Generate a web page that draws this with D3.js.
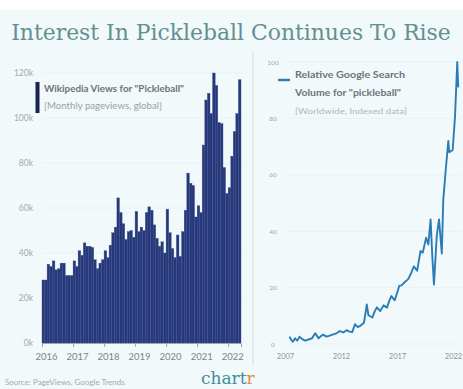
<!DOCTYPE html>
<html>
<head>
<meta charset="utf-8">
<script src="https://cdn.jsdelivr.net/npm/d3@7"></script>
<style>
  body { margin: 0; background: #ffffff; }
  svg { display: block; }
</style>
</head>
<body>
<svg id="chart" width="463" height="389"></svg>
<script>
// Wikipedia pageviews (thousands), monthly, Jan 2016 - May 2022
let wikiStart = new Date(2016, 0, 1);
let wikiViews = [
  28, 28, 35, 34, 36.5, 32.5, 33, 35.5, 35.5, 30, 30, 30,
  36.5, 34, 41, 39, 44.5, 43, 43, 42.5, 37, 33, 35.5, 37,
  41, 38, 43.5, 49, 51.5, 64.5, 58, 53, 46, 49.5, 50, 47,
  58.5, 49.5, 51.5, 50, 58, 60.5, 59, 52.5, 46.5, 43, 45, 40,
  59.5, 49, 42, 38, 48, 38.5, 49.5, 59, 75.5, 71, 70, 56,
  61, 58, 88, 108, 111, 102, 120, 114.5, 98, 97.5, 78, 66.5,
  69, 83, 94, 102, 117
];
let wikiTicks = [0, 20, 40, 60, 80, 100, 120];
let wikiYears = [2016, 2017, 2018, 2019, 2020, 2021, 2022];

// Google Trends index, read at decimal years
let gtDates = [
  2007.4, 2007.55, 2007.7, 2007.9, 2008.1, 2008.3, 2008.5, 2008.8, 2009.1, 2009.4,
  2009.7, 2010.0, 2010.2, 2010.4, 2010.7, 2011.0, 2011.3, 2011.6, 2011.9, 2012.2,
  2012.5, 2012.75, 2013.0, 2013.25, 2013.5, 2013.7, 2014.05, 2014.3, 2014.45, 2014.8,
  2015.0, 2015.2, 2015.5, 2015.8, 2016.1, 2016.3, 2016.5, 2016.8, 2017.0, 2017.2,
  2017.4, 2017.7, 2018.0, 2018.25, 2018.5, 2018.8, 2019.1, 2019.3, 2019.6, 2019.8,
  2020.0, 2020.15, 2020.3, 2020.55, 2020.75, 2021.0, 2021.13, 2021.35, 2021.58, 2021.67,
  2021.97, 2022.18, 2022.38, 2022.47
];
let gtValues = [
  2.6, 1.5, 0.8, 2.0, 1.2, 2.6, 1.8, 1.2, 1.6, 2.0,
  3.8, 2.0, 2.8, 3.3, 2.6, 3.0, 3.4, 3.8, 4.6, 4.1,
  4.9, 4.4, 4.2, 7.0, 6.0, 6.4, 7.5, 14, 10.2, 9.4,
  11.5, 13, 11.7, 13.7, 12.9, 15.2, 17, 15.5, 18, 20.6,
  20.8, 22, 23, 25, 27.5, 26, 33, 32.4, 37.7, 35.3,
  44.2, 31.2, 21.1, 38.3, 44.2, 32.1, 51, 61.7, 72, 68,
  68.8, 80.6, 100, 91
];
let gtTicks = [0, 20, 40, 60, 80, 100];
let gtYears = [2007, 2012, 2017, 2022];

let svg = d3.select("#chart");
let W = 463, H = 389;
let font = "Lato, 'Open Sans', sans-serif";

// фон
svg.append("rect").attr("width", W).attr("height", H).attr("fill", "#f1f9fb");
svg.append("rect").attr("width", W).attr("height", 10).attr("fill", "#ffffff");

// заголовок: сжимаем по ширине через transform, чтобы влез
let titleG = svg.append("g");
let title = titleG.append("text")
  .attr("x", 0).attr("y", 0)
  .attr("text-anchor", "middle")
  .attr("font-family", "'DejaVu Serif', serif")
  .attr("font-size", 23)
  .attr("fill", "#63908f")
  .text("Interest In Pickleball Continues To Rise");
let titleW = title.node().getComputedTextLength();
let sx = Math.min(1, 440 / titleW);
titleG.attr("transform", `translate(231, 40) scale(${sx}, 1)`);

// ---------- левая панель: Википедия ----------
let left = { x0: 42, x1: 241, y0: 343, y1: 73 };
let xWiki = d3.scaleTime()
  .domain([wikiStart, d3.timeMonth.offset(wikiStart, wikiViews.length)])
  .range([left.x0, left.x1]);
let yWiki = d3.scaleLinear().domain([0, 120]).range([left.y0, left.y1]);

let gL = svg.append("g");
gL.selectAll(".grid")
  .data(wikiTicks.slice(1))
  .enter().append("line")
  .attr("x1", left.x0).attr("x2", left.x1 + 4)
  .attr("y1", d => yWiki(d)).attr("y2", d => yWiki(d))
  .attr("stroke", "#e2ecef").attr("stroke-width", 0.6);

gL.selectAll(".ylab")
  .data(wikiTicks)
  .enter().append("text")
  .attr("x", 33).attr("y", d => yWiki(d) + 3)
  .attr("text-anchor", "end")
  .attr("font-family", font).attr("font-size", 8.5)
  .attr("fill", "#a3a9ad")
  .text(d => d + "k");

gL.selectAll(".bar")
  .data(wikiViews)
  .enter().append("rect")
  .attr("x", (d, i) => xWiki(d3.timeMonth.offset(wikiStart, i)))
  .attr("width", (d, i) => xWiki(d3.timeMonth.offset(wikiStart, i + 1)) - xWiki(d3.timeMonth.offset(wikiStart, i)))
  .attr("y", d => yWiki(d))
  .attr("height", d => left.y0 - yWiki(d))
  .attr("fill", "#26387a")
  .attr("stroke", "#3a4d8c")
  .attr("stroke-width", 0.35);

let axisWiki = d3.axisBottom(xWiki)
  .tickValues(wikiYears.map(y => new Date(y, 0, 1)))
  .tickFormat(d3.timeFormat("%Y"))
  .tickSize(4).tickPadding(6);
let ax = gL.append("g")
  .attr("transform", `translate(0, ${left.y0})`)
  .call(axisWiki);
ax.select(".domain").attr("stroke", "#9aa4b8");
ax.selectAll(".tick line").attr("stroke", "#9aa4b8");
ax.selectAll("text")
  .attr("font-family", font).attr("font-size", 9.5)
  .attr("fill", "#7d8488")
  .attr("dx", 4);

// легенда слева
gL.append("rect").attr("x", 35.5).attr("y", 82).attr("width", 4).attr("height", 31).attr("fill", "#1a2454");
gL.append("text").attr("x", 44).attr("y", 92)
  .attr("font-family", font).attr("font-size", 8.8).attr("font-weight", 700)
  .attr("fill", "#6e7378")
  .attr("textLength", 140).attr("lengthAdjust", "spacingAndGlyphs")
  .text("Wikipedia Views for \"Pickleball\"");
gL.append("text").attr("x", 44).attr("y", 109)
  .attr("font-family", font).attr("font-size", 8.8)
  .attr("fill", "#9aa0a4")
  .attr("textLength", 118).attr("lengthAdjust", "spacingAndGlyphs")
  .text("[Monthly pageviews, global]");

// разделитель
svg.append("line")
  .attr("x1", 253).attr("x2", 253).attr("y1", 52).attr("y2", 365)
  .attr("stroke", "#d4dadd").attr("stroke-width", 1);

// ---------- правая панель: Google Trends ----------
let right = { x0: 285, x1: 453, y0: 344, y1: 62 };
let xGt = d3.scaleLinear().domain([2007, 2022]).range([right.x0, right.x1]);
let yGt = d3.scaleLinear().domain([0, 100]).range([right.y0, right.y1]);

let gR = svg.append("g");
gR.selectAll(".grid")
  .data(gtTicks)
  .enter().append("line")
  .attr("x1", 288).attr("x2", 462)
  .attr("y1", d => yGt(d)).attr("y2", d => yGt(d))
  .attr("stroke", "#e2ecef").attr("stroke-width", 0.6);

gR.selectAll(".ylab")
  .data(gtTicks)
  .enter().append("text")
  .attr("x", 273).attr("y", d => yGt(d) + 2.5)
  .attr("text-anchor", "middle")
  .attr("font-family", font).attr("font-size", 6.5)
  .attr("fill", "#a3a9ad")
  .text(d => d);

let axisGt = d3.axisBottom(xGt)
  .tickValues(gtYears)
  .tickFormat(d3.format("d"))
  .tickSize(0).tickPadding(10);
let axR = gR.append("g")
  .attr("transform", `translate(0, ${right.y0})`)
  .call(axisGt);
axR.select(".domain").remove();
axR.selectAll("text")
  .attr("font-family", font).attr("font-size", 7.5)
  .attr("fill", "#8d9397");

let line = d3.line()
  .x((d, i) => xGt(gtDates[i]))
  .y(d => yGt(d));
gR.append("path")
  .datum(gtValues)
  .attr("d", line)
  .attr("fill", "none")
  .attr("stroke", "#2a7db4")
  .attr("stroke-width", 1.9)
  .attr("stroke-linejoin", "round");

// легенда справа
gR.append("line").attr("x1", 278).attr("x2", 290).attr("y1", 80).attr("y2", 80)
  .attr("stroke", "#2a7db4").attr("stroke-width", 2.4);
gR.append("text").attr("x", 295).attr("y", 78)
  .attr("font-family", font).attr("font-size", 9.2).attr("font-weight", 700)
  .attr("fill", "#6e7378")
  .attr("textLength", 110).attr("lengthAdjust", "spacingAndGlyphs")
  .text("Relative Google Search");
gR.append("text").attr("x", 295).attr("y", 96)
  .attr("font-family", font).attr("font-size", 9.2).attr("font-weight", 700)
  .attr("fill", "#6e7378")
  .attr("textLength", 106).attr("lengthAdjust", "spacingAndGlyphs")
  .text("Volume for \"pickleball\"");
gR.append("text").attr("x", 295).attr("y", 114)
  .attr("font-family", font).attr("font-size", 8.2)
  .attr("fill", "#b1b6b9")
  .attr("textLength", 112).attr("lengthAdjust", "spacingAndGlyphs")
  .text("[Worldwide, Indexed data]");

// подписи снизу
svg.append("text").attr("x", 5).attr("y", 385)
  .attr("font-family", font).attr("font-size", 8)
  .attr("fill", "#a3a9ad")
  .text("Source: PageViews, Google Trends");
let logo = svg.append("text").attr("x", 201).attr("y", 384)
  .attr("font-family", "'DejaVu Serif', serif").attr("font-size", 17)
  .attr("fill", "#3e8f9a");
logo.append("tspan").text("chart");
logo.append("tspan").attr("fill", "#e08a3c").text("r");
</script>
</body>
</html>
